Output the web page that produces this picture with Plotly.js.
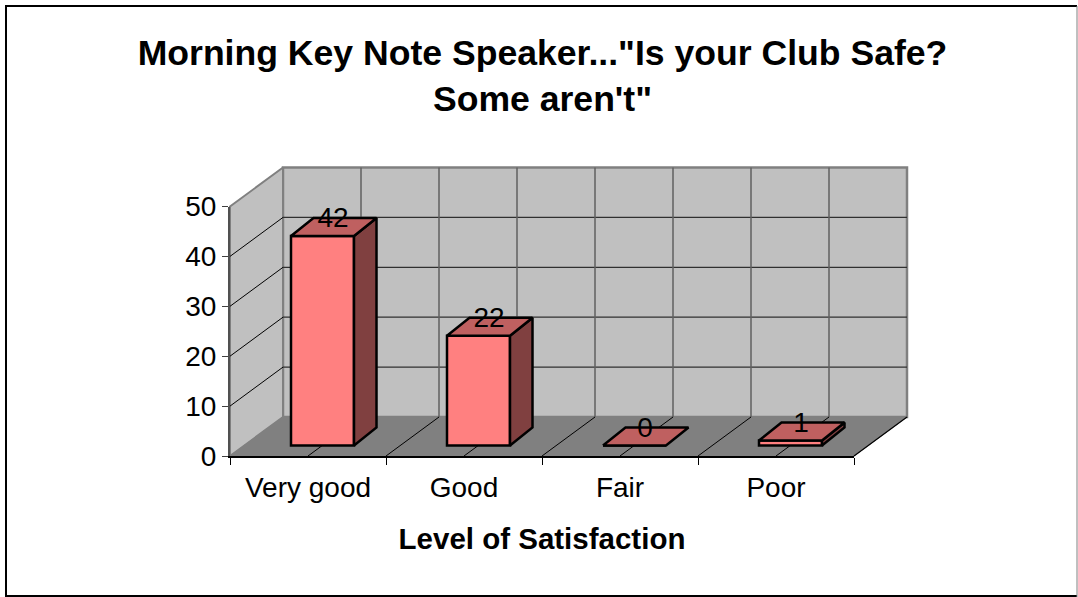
<!DOCTYPE html>
<html>
<head>
<meta charset="utf-8">
<script src="https://cdn.plot.ly/plotly-3.0.1.min.js"></script>
<style>html,body{margin:0;padding:0;background:#fff}#chart{width:1078px;height:597px}</style>
</head>
<body>
<div id="chart"></div>
<script>
// Data
const categories = ["Very good", "Good", "Fair", "Poor"];
const responses = [42, 22, 0, 1];
const valueTicks = [0, 10, 20, 30, 40, 50];
const chartTitle = 'Morning Key Note Speaker..."Is your Club Safe?<br>Some aren\'t"';
const xTitle = "Level of Satisfaction";

// Oblique "3D" projection, in axis units
const W = 1078, H = 597, L = 230, R = 854, T = 206.5, B = 456;
const pxX = (R - L) / categories.length, pxY = (B - T) / 50;
const wallDX = 53 / pxX, wallDY = 39 / pxY;
const barOff = 14.5 / pxX, barW = 63 / pxX, barBase = 10.5 / pxY;
const barDX = 22.5 / pxX, barDY = 18 / pxY;
const x0 = -0.5, x1 = categories.length - 0.5, yMax = 50;
const FONT = '"Liberation Sans", Arial, sans-serif';
// outer plot area, which holds the walls that stick out behind the front plane
const OL = 225, OR = 912, OT = 160, OB = 461;

function poly(xs, ys, fill, line, lw, axes) {
  return Object.assign({type:'scatter', mode:'lines', x:xs, y:ys, fill:'toself', fillcolor:fill,
    line:{color:line, width:lw}, hoverinfo:'skip', showlegend:false}, axes||{});
}
function seg(xs, ys, color, lw) {
  return {type:'scatter', mode:'lines', x:xs, y:ys, line:{color:color, width:lw},
    hoverinfo:'skip', showlegend:false};
}
const traces = [];
// walls and floor
traces.push(poly([x0+wallDX,x1+wallDX,x1+wallDX,x0+wallDX,x0+wallDX],[wallDY,wallDY,yMax+wallDY,yMax+wallDY,wallDY],'#C0C0C0','#808080',2.5));
traces.push(poly([x0,x0+wallDX,x0+wallDX,x0,x0],[0,wallDY,yMax+wallDY,yMax,0],'#C0C0C0','#808080',2));
traces.push(poly([x0,x1,x1+wallDX,x0+wallDX,x0],[0,0,wallDY,wallDY,0],'#808080','#808080',1));
// gridlines on the walls
valueTicks.slice(1,-1).forEach(v=>{
  traces.push(seg([x0+wallDX,x1+wallDX],[v+wallDY,v+wallDY],'#303030',1.2));
  traces.push(seg([x0,x0+wallDX],[v,v+wallDY],'#000',1));
});
for(let k=1;k<categories.length*2;k++){
  const x=x0+k/2;
  traces.push(seg([x+wallDX,x+wallDX],[wallDY,yMax+wallDY],'#606060',1.5));
  traces.push(seg([x,x+wallDX],[0,wallDY],'#000',1));
}
traces.push(seg([x1,x1+wallDX],[0,wallDY],'#000',1.2));

// bars (second subplot, drawn above the walls)
const ov = {xaxis:'x2', yaxis:'y2'};
traces.push(Object.assign({type:'bar', x:categories.map((c,i)=>i+barOff), y:responses,
  base:responses.map(()=>barBase), width:barW, name:'Responses', hoverinfo:'y',
  text:categories, textposition:'none', showlegend:false,
  marker:{color:'#FF8080', line:{color:'#000', width:2.5}}}, ov));
responses.forEach((v,i)=>{
  const l=i+barOff-barW/2, r=l+barW, b=barBase, t=barBase+v;
  if(v>0) traces.push(poly([r,r+barDX,r+barDX,r,r],[b,b+barDY,t+barDY,t,b],'#804040','#000',2.5,ov));
  traces.push(poly([l,r,r+barDX,l+barDX,l],[t,t,t+barDY,t+barDY,t],'#BF6060','#000',2.5,ov));
});
traces.push(Object.assign({type:'scatter', mode:'text', x:categories.map((c,i)=>i+barOff+10.5/pxX),
  y:responses.map(v=>barBase+v+barDY-2/pxY), text:responses.map(String), textposition:'middle center',
  textfont:{family:FONT,size:28,color:'#000'}, hoverinfo:'skip', showlegend:false, cliponaxis:false}, ov));

// frame
const fx=p=>(p-OL)/(OR-OL), fy=p=>(OB-p)/(OB-OT);
const frame=(a,b,c,d,color,w)=>({type:'line',xref:'paper',yref:'paper',x0:fx(a),y0:fy(b),x1:fx(c),y1:fy(d),line:{color:color,width:w}});

const hidden = {visible:false, showgrid:false, zeroline:false, fixedrange:true};
const layout = {
  width:W, height:H, autosize:false, paper_bgcolor:'#fff', plot_bgcolor:'rgba(0,0,0,0)',
  margin:{l:OL, r:W-OR, t:OT, b:H-OB, pad:0}, showlegend:false, barmode:'overlay',
  font:{family:FONT, size:28, color:'#000'},
  title:{text:chartTitle, x:542.5/W, xanchor:'center', y:1-65/H, yanchor:'top', yref:'container',
    font:{family:FONT, size:35.6, weight:700, color:'#000'}},
  xaxis:Object.assign({anchor:'y', domain:[0,1], type:'linear', range:[x0-(L-OL)/pxX, x0+(OR-L)/pxX]}, hidden),
  yaxis:Object.assign({anchor:'x', domain:[0,1], type:'linear', range:[-(OB-B)/pxY, (B-OT)/pxY]}, hidden),
  xaxis2:{anchor:'y2', domain:[fx(L),fx(R)], side:'bottom', type:'linear', range:[x0,x1], tickmode:'array',
    tickvals:categories.map((c,i)=>i), ticktext:categories, ticks:'',
    minor:{tickmode:'array', tickvals:categories.map((c,i)=>i-0.5).concat([x1]), ticks:'outside', ticklen:7, tickwidth:1, tickcolor:'#000', showgrid:false},
    showgrid:false, zeroline:false, showline:true, linecolor:'#000', linewidth:1.5,
    ticklabelstandoff:6, tickfont:{family:FONT,size:28,color:'#000'},
    title:{text:xTitle, standoff:26, font:{family:FONT,size:29.5,weight:700,color:'#000'}}},
  yaxis2:{anchor:'x2', domain:[fy(B),fy(T)], type:'linear', range:[0,yMax], tickmode:'array', tickvals:valueTicks,
    ticks:'outside', ticklen:6, tickwidth:1, tickcolor:'#404040', showgrid:false, zeroline:false,
    showline:true, linecolor:'#505050', linewidth:2, tickfont:{family:FONT,size:28,color:'#000'}},
  shapes:[
    frame(5,6,1077,6,'#000',2),
    frame(6,5,6,597,'#000',2),
    frame(5,596,1077,596,'#000',2),
    frame(1077,6,1077,597,'#808080',1)
  ]
};
Plotly.newPlot('chart', traces, layout, {displayModeBar:false, responsive:false});
</script>
</body>
</html>
